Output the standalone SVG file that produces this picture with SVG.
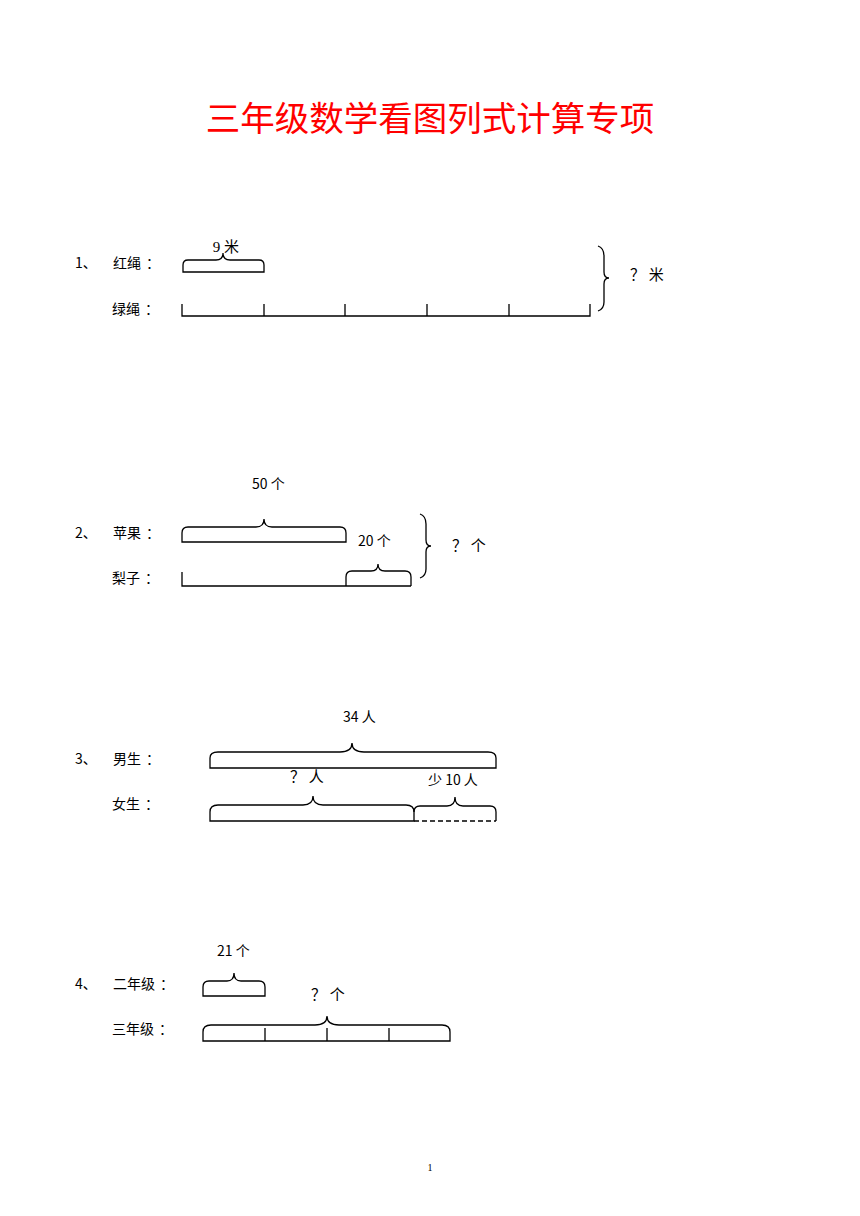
<svg xmlns="http://www.w3.org/2000/svg" width="860" height="1216" viewBox="0 0 860 1216">
<style>
.t{font-family:"Noto Sans CJK SC","Liberation Sans",sans-serif;font-size:14px;fill:#000}
.s{font-family:"Liberation Serif","Noto Sans CJK SC",serif;font-size:15px;fill:#000}
.ln{fill:none;stroke:#000;stroke-width:1.3}
.da{fill:none;stroke:#000;stroke-width:1.3;stroke-dasharray:5 3}
</style>
<rect width="860" height="1216" fill="#fff"/>
<text x="430" y="131" text-anchor="middle" font-family="Noto Sans CJK SC, sans-serif" font-size="34.5" fill="#ff0000">三年级数学看图列式计算专项</text>

<g id="p1">
<text class="t" x="75" y="268">1、</text>
<text class="t" x="113" y="268">红绳<tspan dx="5">：</tspan></text>
<text class="t" x="112" y="314">绿绳<tspan dx="5">：</tspan></text>
<text class="s" x="226" y="252" text-anchor="middle">9 米</text>
<text class="s" x="630" y="280">？ 米</text>
</g>
<g id="p2">
<text class="t" x="252" y="489">50 个</text>
<text class="t" x="75" y="538">2、</text>
<text class="t" x="113" y="538">苹果<tspan dx="5">：</tspan></text>
<text class="t" x="358" y="546">20 个</text>
<text class="t" x="112" y="583">梨子<tspan dx="5">：</tspan></text>
<text class="s" x="452" y="551">？ 个</text>
</g>
<g id="p3">
<text class="t" x="343" y="722">34 人</text>
<text class="t" x="75" y="764">3、</text>
<text class="t" x="113" y="764">男生<tspan dx="5">：</tspan></text>
<text class="s" x="290" y="782">？ 人</text>
<text class="t" x="428" y="785">少 10 人</text>
<text class="t" x="112" y="809">女生<tspan dx="5">：</tspan></text>
</g>
<g id="p4">
<text class="t" x="217" y="956">21 个</text>
<text class="t" x="75" y="989">4、</text>
<text class="t" x="113" y="989">二年级<tspan dx="5">：</tspan></text>
<text class="s" x="311" y="1000">？ 个</text>
<text class="t" x="112" y="1034">三年级<tspan dx="5">：</tspan></text>
</g>
<text x="430" y="1171" text-anchor="middle" font-family="Liberation Serif, serif" font-size="10" fill="#000">1</text>

<g id="connectors">
<!-- p1 -->
<path class="ln" d="M183 272 L183 265 Q183 260 188 260 L216 260 Q223 260 223 253 Q223 260 230 260 L259 260 Q264 260 264 265 L264 272 Z"/>
<path class="ln" d="M182 304 L182 316 L590 316 L590 304 M264 304 L264 316 M345 304 L345 316 M427 304 L427 316 M509 304 L509 316"/>
<path class="ln" d="M598 246 Q604 248 604 256 L604 272 Q604 278 609 278 Q604 278 604 284 L604 302 Q604 309 598 311"/>
<!-- p2 -->
<path class="ln" d="M182 542 L182 533 Q182 527 188 527 L256 527 Q264 527 264 519 Q264 527 272 527 L340 527 Q346 527 346 533 L346 542 Z"/>
<path class="ln" d="M182 572 L182 586 L411 586"/>
<path class="ln" d="M346 586 L346 577 Q346 571 352 571 L371 571 Q378 571 378 564 Q378 571 385 571 L405 571 Q411 571 411 577 L411 586"/>
<path class="ln" d="M420 514 Q426 516 426 524 L426 540 Q426 546 431 546 Q426 546 426 552 L426 569 Q426 576 420 578"/>
<!-- p3 -->
<path class="ln" d="M210 768 L210 758 Q210 752 218 752 L340 752 Q352 752 352 743 Q352 752 364 752 L488 752 Q496 752 496 758 L496 768 Z"/>
<path class="ln" d="M210 821 L210 812 Q210 805 218 805 L303 805 Q313 805 313 796 Q313 805 323 805 L406 805 Q414 805 414 812 L414 821 Z"/>
<path class="ln" d="M414 812 Q414 806 420 806 L447 806 Q455 806 455 797 Q455 806 463 806 L490 806 Q496 806 496 812 L496 821"/>
<path class="da" d="M414 821 L496 821"/>
<!-- p4 -->
<path class="ln" d="M203 996 L203 987 Q203 981 209 981 L227 981 Q234 981 234 973 Q234 981 241 981 L259 981 Q265 981 265 987 L265 996 Z"/>
<path class="ln" d="M203 1041 L203 1032 Q203 1025 211 1025 L315 1025 Q327 1025 327 1016 Q327 1025 339 1025 L442 1025 Q450 1025 450 1032 L450 1041 Z"/>
<path class="ln" d="M265 1028 L265 1041 M327 1028 L327 1041 M389 1028 L389 1041"/>
</g>
</svg>
